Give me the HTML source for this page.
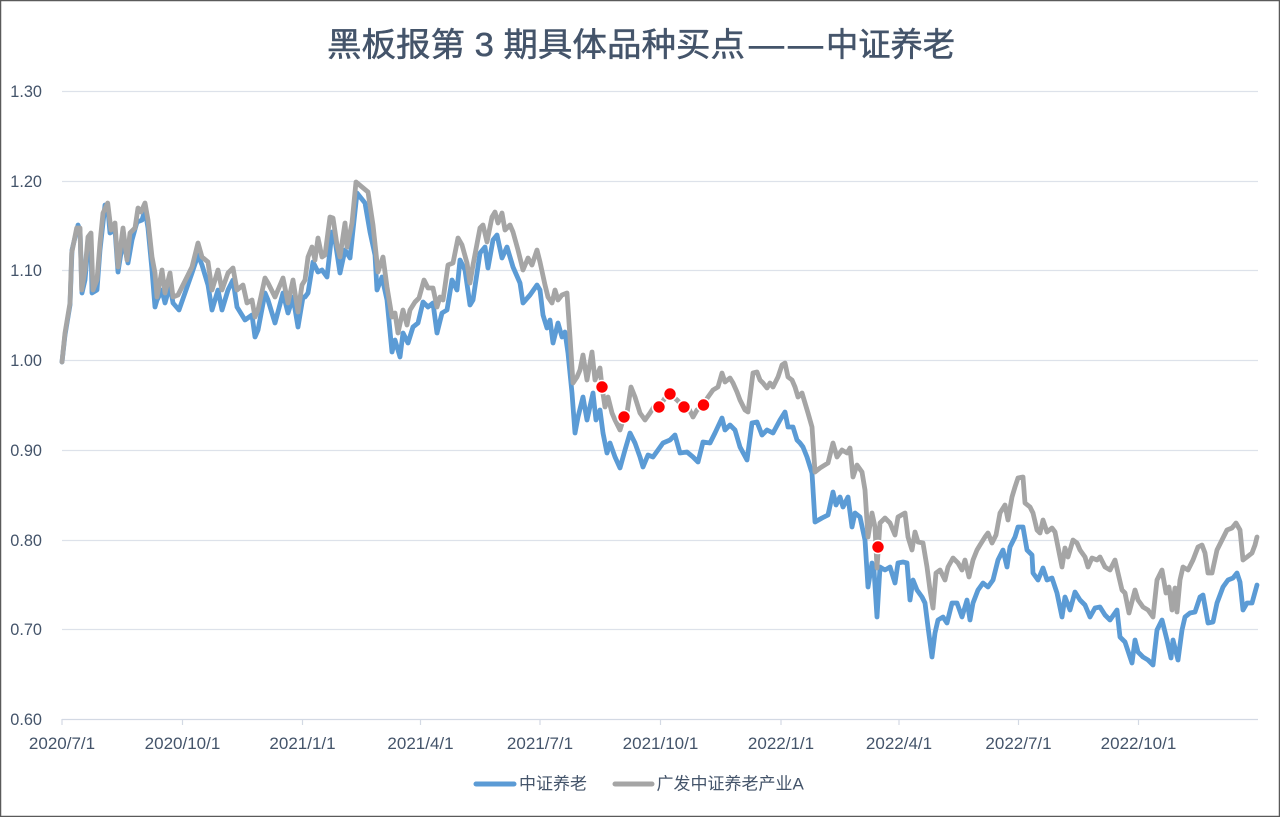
<!DOCTYPE html>
<html><head><meta charset="utf-8"><style>
html,body{margin:0;padding:0;background:#fff;}
body{width:1280px;height:817px;overflow:hidden;}
svg{display:block;}
</style></head><body>
<svg width="1280" height="817" viewBox="0 0 1280 817" xmlns="http://www.w3.org/2000/svg">
<rect x="0.5" y="0.5" width="1279" height="816" fill="#fff" stroke="#5a5a5a" stroke-width="1.5"/>
<g font-family="'Liberation Sans','Noto Sans CJK SC',sans-serif" font-size="33" fill="#44546A" stroke="#44546A" stroke-width="0.5">
<text x="327" y="56" textLength="418" lengthAdjust="spacingAndGlyphs">黑板报第 3 期具体品种买点</text>
<text x="749" y="56" textLength="35" lengthAdjust="spacingAndGlyphs">—</text>
<text x="788" y="56" textLength="35" lengthAdjust="spacingAndGlyphs">—</text>
<text x="826" y="56" textLength="129" lengthAdjust="spacingAndGlyphs">中证养老</text>
</g>
<g stroke="#DDE2EA" stroke-width="1.2">
<line x1="62" y1="91.5" x2="1258" y2="91.5"/>
<line x1="62" y1="181.5" x2="1258" y2="181.5"/>
<line x1="62" y1="270.5" x2="1258" y2="270.5"/>
<line x1="62" y1="360.5" x2="1258" y2="360.5"/>
<line x1="62" y1="450.5" x2="1258" y2="450.5"/>
<line x1="62" y1="540.5" x2="1258" y2="540.5"/>
<line x1="62" y1="629.5" x2="1258" y2="629.5"/>
</g>
<g stroke="#D3D9E4" stroke-width="1.2">
<line x1="62" y1="719.5" x2="1258" y2="719.5"/>
<line x1="62" y1="719" x2="62" y2="725"/>
<line x1="182.5" y1="719" x2="182.5" y2="725"/>
<line x1="302.5" y1="719" x2="302.5" y2="725"/>
<line x1="420.5" y1="719" x2="420.5" y2="725"/>
<line x1="540" y1="719" x2="540" y2="725"/>
<line x1="660.5" y1="719" x2="660.5" y2="725"/>
<line x1="781" y1="719" x2="781" y2="725"/>
<line x1="899" y1="719" x2="899" y2="725"/>
<line x1="1018.5" y1="719" x2="1018.5" y2="725"/>
<line x1="1138.5" y1="719" x2="1138.5" y2="725"/>
</g>
<g font-family="'Liberation Sans',sans-serif" font-size="16.3" fill="#44546A" text-anchor="end">
<text x="42" y="97">1.30</text>
<text x="42" y="187">1.20</text>
<text x="42" y="276">1.10</text>
<text x="42" y="366">1.00</text>
<text x="42" y="456">0.90</text>
<text x="42" y="546">0.80</text>
<text x="42" y="635">0.70</text>
<text x="42" y="725">0.60</text>
</g>
<g font-family="'Liberation Sans',sans-serif" font-size="17" fill="#44546A" text-anchor="middle">
<text x="62" y="749">2020/7/1</text>
<text x="182.5" y="749">2020/10/1</text>
<text x="302.5" y="749">2021/1/1</text>
<text x="420.5" y="749">2021/4/1</text>
<text x="540" y="749">2021/7/1</text>
<text x="660.5" y="749">2021/10/1</text>
<text x="781" y="749">2022/1/1</text>
<text x="899" y="749">2022/4/1</text>
<text x="1018.5" y="749">2022/7/1</text>
<text x="1138.5" y="749">2022/10/1</text>
</g>
<polyline fill="none" stroke="#5B9BD5" stroke-width="4.8" stroke-linejoin="round" stroke-linecap="round" points="62,362 65,335 70,305 72,250 78,225 80,230 82,293 85,280 88,245 91,240 92,293 97,290 100,250 105,205 108,210 110,233 115,230 118,272 123,240 128,263 132,240 137,222 142,220 145,210 148,228 152,270 155,307 157,300 162,290 165,303 170,285 173,303 179,310 192,273 198,255 202,265 208,285 212,310 218,290 222,310 228,290 233,280 237,307 245,320 252,315 255,337 258,330 265,293 268,300 275,323 283,293 288,313 293,297 298,327 303,297 305,297 308,293 313,262 318,272 322,270 327,277 332,232 335,240 340,273 345,250 350,258 353,230 357,193 365,203 370,232 375,255 377,290 382,277 387,300 392,352 395,340 400,357 403,333 408,343 413,327 418,323 423,302 428,307 433,303 437,333 442,313 447,310 452,280 457,290 460,260 465,270 470,305 473,300 480,253 485,247 488,268 493,240 497,235 502,258 507,247 513,267 520,283 523,303 530,295 537,285 540,290 543,315 547,328 550,320 553,343 558,323 562,337 565,332 568,353 572,393 575,433 578,417 583,397 587,420 593,393 596,420 600,410 603,433 607,453 610,443 615,457 620,468 625,450 630,433 635,443 640,457 643,467 648,455 653,457 658,450 663,443 670,440 675,435 680,453 687,452 693,457 698,462 703,442 710,443 715,433 722,418 725,430 730,425 735,430 740,447 747,460 752,423 757,422 762,435 767,430 773,433 780,420 785,412 788,427 793,427 797,440 800,443 803,447 807,457 812,473 815,522 822,518 828,515 833,492 836,505 840,497 843,507 848,497 852,527 855,513 860,517 865,540 868,587 872,563 874,570 877,617 880,567 885,570 890,567 895,583 898,563 903,562 907,563 910,600 913,580 917,590 922,597 925,603 928,627 932,657 935,633 938,620 943,617 947,623 952,603 957,603 962,617 967,600 970,620 973,603 978,590 983,583 988,587 993,580 998,560 1003,550 1007,567 1010,547 1015,537 1018,527 1023,527 1027,550 1032,555 1033,573 1038,580 1043,568 1047,580 1052,578 1057,593 1062,617 1065,597 1070,610 1075,592 1080,600 1085,605 1090,617 1095,608 1100,607 1105,615 1110,620 1117,610 1120,637 1125,642 1132,663 1135,640 1138,652 1143,657 1148,660 1153,665 1157,630 1162,620 1167,640 1171,658 1173,640 1178,660 1182,630 1185,617 1190,613 1195,612 1200,597 1203,595 1208,623 1213,622 1217,603 1223,587 1228,580 1233,578 1237,573 1240,582 1243,610 1247,603 1252,603 1257,585"/>
<polyline fill="none" stroke="#A5A5A5" stroke-width="4.8" stroke-linejoin="round" stroke-linecap="round" points="62,362 65,333 70,303 71.7,253 76.7,228 80,228 81.7,290 85,270 88,237 91,233 93,290 97,280 100,243 103,213 107.7,203 111,230 115,223 118,267 123,228 127,260 130,233 135,228 138,208 141,212 145,203 148,220 152,257 155,273 157,297 162,270 165,293 170,273 173,297 178,295 192,267 198,243 202,257 208,262 212,290 218,270 222,290 228,273 233,268 237,290 243,285 247,303 252,300 255,317 258,310 265,278 268,283 275,297 283,278 288,303 293,280 298,312 302,285 305,280 308,257 312,247 315,260 318,238 322,257 325,255 330,217 333,218 337,245 340,257 345,223 347,247 352,223 356,182 362,187 368,192 373,225 378,272 383,257 387,287 392,317 395,313 398,333 403,310 407,325 410,310 415,302 419,298 424,280 428,288 433,288 437,307 440,297 443,300 448,265 453,263 458,238 462,245 467,263 470,283 473,265 480,228 483,225 487,242 492,217 495,212 498,223 502,213 505,230 510,225 513,232 518,250 523,270 528,258 532,265 537,250 540,262 545,285 548,297 552,303 555,290 558,300 562,295 567,293 570,337 573,383 577,377 580,370 583,355 587,380 592,352 595,380 600,368 602,387 605,407 608,397 612,413 615,420 620,430 624,417 627,413 631,387 635,397 640,413 645,420 650,413 655,405 659,407 665,398 670,394 677,400 684,407 688,407 693,417 697,410 703,405 708,397 713,390 718,387 722,373 725,382 730,378 733,383 737,392 740,400 745,410 748,412 753,373 757,372 760,380 763,383 767,388 770,383 773,387 778,377 782,365 785,363 788,377 792,380 795,387 798,397 802,393 805,403 808,413 812,427 815,472 820,468 828,463 833,443 837,457 842,450 847,453 850,448 853,477 857,465 862,472 865,490 868,537 872,513 875,527 877,568 880,523 885,518 890,523 895,535 898,517 905,513 908,537 912,550 915,532 918,542 923,543 927,567 930,590 933,608 936,573 940,570 945,580 948,567 953,558 958,563 962,570 965,560 969,577 973,560 977,550 980,545 985,537 988,533 992,543 996,535 1000,513 1005,505 1008,520 1012,497 1015,487 1018,478 1023,477 1025,503 1030,507 1033,513 1037,530 1040,533 1043,520 1047,532 1052,528 1055,532 1058,547 1062,567 1065,548 1068,557 1073,540 1077,543 1080,550 1085,557 1088,567 1092,558 1097,560 1100,557 1105,567 1110,570 1115,560 1118,573 1122,590 1125,593 1129,613 1135,590 1138,600 1143,607 1148,610 1153,617 1157,580 1162,570 1166,593 1169,587 1172,610 1175,588 1177,612 1180,580 1183,567 1188,570 1193,560 1198,547 1202,545 1205,553 1208,573 1212,573 1217,550 1222,540 1227,530 1232,528 1236,523 1240,530 1243,560 1247,557 1252,553 1255,545 1257,537"/>
<g fill="#FF0000" stroke="#ffffff" stroke-width="1.6">
<circle cx="602" cy="387" r="6.5"/>
<circle cx="624" cy="417" r="6.5"/>
<circle cx="659" cy="407" r="6.5"/>
<circle cx="670" cy="394" r="6.5"/>
<circle cx="684" cy="407" r="6.5"/>
<circle cx="703.5" cy="405" r="6.5"/>
<circle cx="878" cy="547" r="6.5"/>
</g>
<line x1="476" y1="784" x2="514" y2="784" stroke="#5B9BD5" stroke-width="5" stroke-linecap="round"/>
<line x1="615" y1="784" x2="652" y2="784" stroke="#A5A5A5" stroke-width="5" stroke-linecap="round"/>
<g font-family="'Liberation Sans','Noto Sans CJK SC',sans-serif" font-size="17" fill="#44546A">
<text x="519" y="789.5">中证养老</text>
<text x="656.5" y="789.5">广发中证养老产业A</text>
</g>
</svg>
</body></html>
